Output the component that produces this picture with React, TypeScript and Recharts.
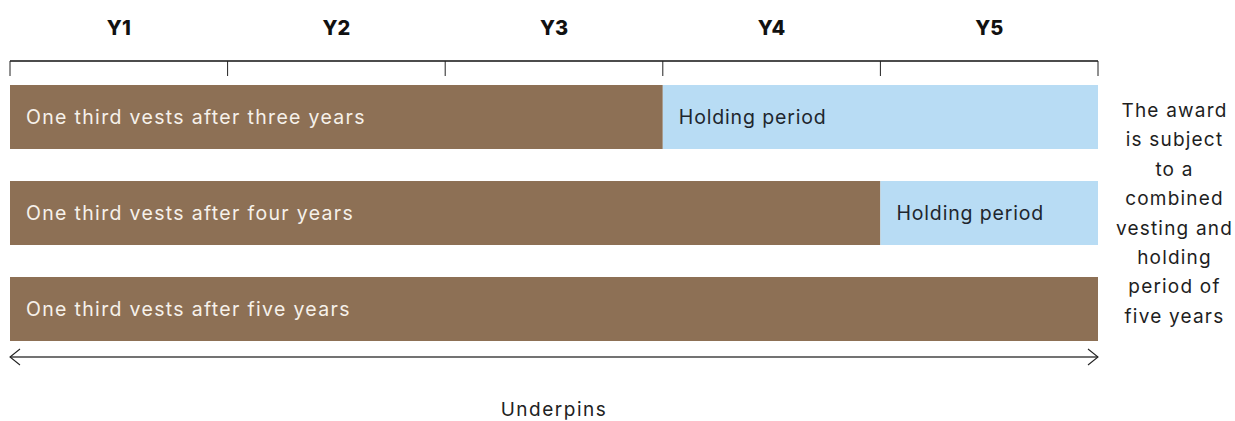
import React from 'react';
import { BarChart, Bar, XAxis, YAxis, LabelList } from 'recharts';

const rowNames = ['r1', 'r2', 'r3'];
const vestYears = [3, 4, 5];
const holdYears = [2, 1, 0];
const vestLabels = [
  'One third vests after three years',
  'One third vests after four years',
  'One third vests after five years',
];
const holdLabels = ['Holding period', 'Holding period', ''];
// integer ticks = year boundaries, half ticks = year labels
const axisTicks = [0, 0.5, 1, 1.5, 2, 2.5, 3, 3.5, 4, 4.5, 5];
const yearLabels = ['Y1', 'Y2', 'Y3', 'Y4', 'Y5'];
const noteLines = ['The award', 'is subject', 'to a', 'combined', 'vesting and', 'holding', 'period of', 'five years'];

const FONT = 'Inter, "Noto Sans", sans-serif';

function YearTick(props: any) {
  const { x, y, payload } = props;
  const v = payload.value;
  if (Number.isInteger(v)) {
    return <line x1={x} x2={x} y1={y} y2={y + 15} stroke="#222" strokeWidth={1} />;
  }
  return (
    <text
      x={x}
      y={y - 26}
      textAnchor="middle"
      fill="#111"
      fontSize={20}
      fontWeight={800}
      fontFamily='Inter, "Liberation Sans", Arial, sans-serif'
    >
      {yearLabels[Math.floor(v)]}
    </text>
  );
}

export default function App() {
  const data = rowNames.map((name, i) => ({
    name,
    vest: vestYears[i],
    hold: holdYears[i],
    vestLabel: vestLabels[i],
    holdLabel: holdLabels[i],
  }));

  return (
    <div style={{ position: 'absolute', left: 0, top: 0, width: 1235, height: 421, fontFamily: FONT }}>
      <svg width={0} height={0} style={{ position: 'absolute' }}>
        <defs>
          <marker
            id="arrowHead"
            markerWidth={12}
            markerHeight={20}
            refX={11}
            refY={9}
            orient="auto-start-reverse"
            markerUnits="userSpaceOnUse"
          >
            <path d="M1,1 L11,9 L1,17" fill="none" stroke="#222" strokeWidth={1.1} />
          </marker>
        </defs>
      </svg>
      <BarChart
        width={1235}
        height={421}
        data={data}
        layout="vertical"
        margin={{ top: 0, right: 137, bottom: 0, left: 10 }}
        barSize={64}
      >
        <XAxis
          xAxisId="0"
          type="number"
          orientation="top"
          domain={[0, 5]}
          ticks={axisTicks}
          interval={0}
          height={61}
          tickSize={0}
          tickMargin={0}
          tick={<YearTick />}
          tickLine={false}
          axisLine={{ stroke: '#111', strokeWidth: 1.3 }}
        />
        {/* underpins arrow */}
        <XAxis
          xAxisId="arrow"
          type="number"
          orientation="bottom"
          domain={[0, 5]}
          height={64}
          tick={false}
          tickLine={false}
          axisLine={{ stroke: '#444', strokeWidth: 1.5, markerStart: 'url(#arrowHead)', markerEnd: 'url(#arrowHead)' }}
          label={{ value: 'Underpins', position: 'insideBottom', offset: 5, fill: '#222', fontSize: 19, fontFamily: FONT, letterSpacing: 1.5 }}
        />
        <YAxis type="category" dataKey="name" hide padding={{ top: 8, bottom: 0 }} />
        <Bar dataKey="vest" stackId="a" xAxisId="0" fill="#8d7055" isAnimationActive={false}>
          <LabelList
            dataKey="vestLabel"
            position="insideLeft"
            offset={16}
            fill="#f6f1ea"
            fontSize={19.5}
            fontFamily={FONT}
            letterSpacing={1.32}
          />
        </Bar>
        <Bar dataKey="hold" stackId="a" xAxisId="0" fill="#b8dcf4" isAnimationActive={false}>
          <LabelList
            dataKey="holdLabel"
            position="insideLeft"
            offset={16}
            fill="#1e262e"
            fontSize={19.5}
            fontFamily={FONT}
            letterSpacing={0.85}
          />
        </Bar>
      </BarChart>
      <div
        style={{
          position: 'absolute',
          left: 1111,
          top: 96,
          width: 127,
          textAlign: 'center',
          fontSize: 19,
          lineHeight: '29.4px',
          color: '#1e1e1e',
          letterSpacing: 1.2,
        }}
      >
        {noteLines.map((t) => (
          <div key={t}>{t}</div>
        ))}
      </div>
    </div>
  );
}
